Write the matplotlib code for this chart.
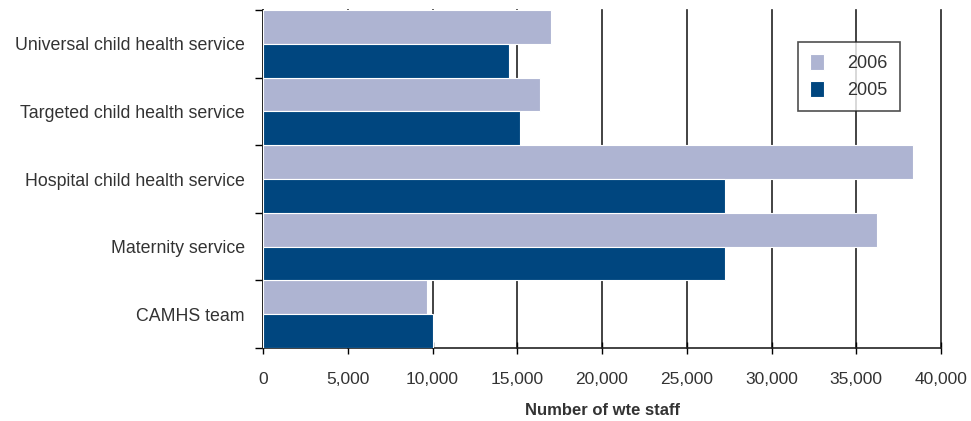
import numpy as np
import matplotlib.pyplot as plt

plt.rcParams['font.family'] = ['Liberation Sans', 'DejaVu Sans']

categories = ['Universal child health service', 'Targeted child health service',
              'Hospital child health service', 'Maternity service', 'CAMHS team']
staff_2006 = [17000, 16350, 38350, 36250, 9700]
staff_2005 = [14500, 15150, 27230, 27230, 10000]
xticks = np.arange(0, 40001, 5000)

light = '#aeb4d2'
dark = '#00467f'
txt = '#333333'

fig = plt.figure(figsize=(9.71, 4.21), dpi=100)
ax = fig.add_axes([0.2709, 0.1734, 0.6982, 0.8028])

y = np.arange(len(categories))[::-1]
h = 0.5
b1 = ax.barh(y + h / 2, staff_2006, h, color=light, edgecolor='white', linewidth=0.8, zorder=3)
b2 = ax.barh(y - h / 2, staff_2005, h, color=dark, edgecolor='white', linewidth=0.8, zorder=3)

ax.set_xlim(0, 40000)
ax.set_ylim(-0.5, len(categories) - 0.5)
ax.set_xticks(xticks)
ax.set_xticklabels(['{:,}'.format(v) for v in xticks], fontsize=12.5, color=txt)
ax.tick_params(axis='x', direction='inout', length=8, width=1, pad=13)
ax.xaxis.grid(True, color='#222222', linewidth=1.2, zorder=0)
for gl in ax.get_xgridlines():
    gl.set_clip_on(False)

ax.set_yticks(y)
ax.set_yticklabels(categories, fontsize=12.8, color=txt)
ax.set_yticks(np.arange(-0.5, len(categories)), minor=True)
ax.tick_params(axis='y', which='major', length=0, pad=13)
ax.tick_params(axis='y', which='minor', direction='out', length=6, width=1)

for s in ['top', 'right']:
    ax.spines[s].set_visible(False)
for s in ['left', 'bottom']:
    ax.spines[s].set_linewidth(1.2)
    ax.spines[s].set_color('#222222')

ax.set_xlabel('Number of wte staff', fontsize=12, fontweight='bold', color=txt, labelpad=12)

leg = ax.legend((b1[0], b2[0]), ('2006', '2005'), loc='upper left',
                bbox_to_anchor=(0.789, 0.905), fancybox=False, fontsize=13,
                handlelength=0.8, handleheight=1.0, borderpad=0.65, labelspacing=0.5,
                handletextpad=1.3, borderaxespad=0)
leg.get_frame().set_edgecolor('#222222')
leg.get_frame().set_linewidth(1.2)
for t in leg.get_texts():
    t.set_color(txt)

fig.savefig('out.png', dpi=100)
